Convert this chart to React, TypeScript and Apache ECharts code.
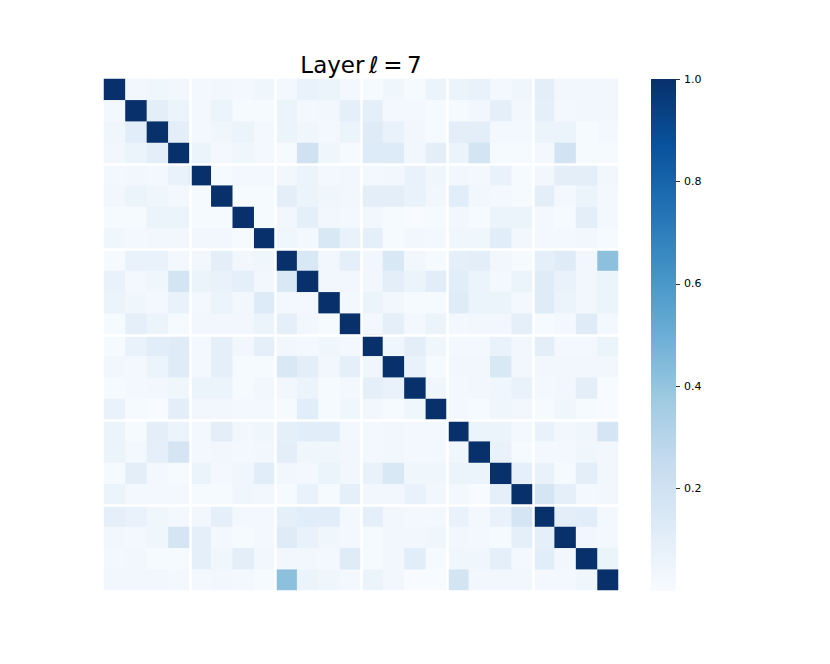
import React, { useEffect, useRef } from "react";
import * as echarts from "echarts";

const titleText = "Layer\u2009ℓ\u2009=\u20097";
const colorTicks = [0.2, 0.4, 0.6, 0.8, 1.0];
const blues = ["#f7fbff", "#deebf7", "#c6dbef", "#9ecae1", "#6baed6", "#4292c6", "#2171b5", "#08519c", "#08306b"];

const row00 = [1, .03, .04, .03, .02, .03, .02, .04, .02, .07, .06, .02, .01, .04, .01, .06, .06, .07, .02, .04, .10, .03, .03, .03];
const row01 = [.02, 1, .10, .06, .02, .06, .01, .01, .06, .02, .03, .09, .09, .02, .02, .01, .01, .03, .09, .03, .09, .02, .03, .03];
const row02 = [.04, .11, 1, .10, .02, .04, .06, .02, .06, .04, .02, .06, .12, .07, .03, .01, .10, .10, .02, .02, .06, .06, .01, .02];
const row03 = [.03, .06, .10, 1, .06, .02, .04, .02, .01, .20, .04, .01, .13, .13, .03, .10, .06, .18, .01, .01, .02, .19, .01, .01];
const row04 = [.02, .03, .02, .07, 1, .01, .02, .02, .03, .06, .02, .03, .02, .03, .07, .04, .03, .02, .07, .01, .03, .10, .10, .03];
const row05 = [.03, .06, .04, .02, .01, 1, .01, .01, .10, .06, .04, .03, .10, .10, .07, .03, .11, .03, .02, .01, .10, .02, .06, .02];
const row06 = [.01, .01, .06, .06, .01, .01, 1, .01, .03, .09, .03, .02, .03, .01, .00, .01, .03, .01, .06, .06, .02, .01, .10, .02];
const row07 = [.04, .02, .03, .03, .03, .03, .01, 1, .04, .02, .15, .07, .09, .01, .03, .02, .04, .04, .11, .03, .02, .02, .03, .01];
const row08 = [.01, .07, .07, .02, .03, .10, .03, .04, 1, .15, .03, .09, .03, .15, .03, .01, .09, .10, .03, .01, .09, .12, .03, .42];
const row09 = [.07, .02, .04, .18, .06, .07, .09, .03, .15, 1, .03, .03, .03, .10, .06, .11, .11, .06, .02, .06, .12, .07, .03, .06];
const row10 = [.06, .04, .02, .07, .02, .06, .03, .13, .02, .02, 1, .02, .06, .03, .01, .01, .12, .06, .06, .02, .12, .06, .03, .06];
const row11 = [.01, .09, .06, .01, .03, .03, .03, .06, .09, .03, .01, 1, .02, .09, .02, .06, .02, .03, .03, .09, .01, .02, .12, .02];
const row12 = [.01, .07, .11, .12, .02, .09, .03, .09, .03, .02, .04, .02, 1, .04, .10, .04, .02, .02, .07, .03, .10, .02, .02, .06];
const row13 = [.03, .02, .06, .12, .02, .09, .01, .01, .15, .10, .03, .09, .04, 1, .07, .01, .03, .03, .15, .03, .03, .03, .03, .03];
const row14 = [.01, .02, .03, .04, .06, .06, .01, .03, .03, .06, .01, .02, .09, .07, 1, .04, .02, .03, .04, .07, .02, .03, .10, .00];
const row15 = [.07, .01, .00, .10, .03, .03, .02, .02, .01, .11, .01, .04, .03, .01, .04, 1, .02, .01, .04, .03, .01, .04, .01, .00];
const row16 = [.06, .01, .10, .06, .02, .10, .03, .04, .09, .11, .11, .02, .02, .03, .02, .02, 1, .06, .06, .02, .07, .03, .04, .17];
const row17 = [.06, .02, .09, .17, .02, .03, .02, .03, .10, .04, .04, .03, .02, .03, .02, .02, .04, 1, .07, .01, .02, .02, .04, .03];
const row18 = [.01, .10, .02, .01, .06, .02, .04, .11, .03, .02, .06, .03, .07, .15, .04, .04, .06, .06, 1, .09, .07, .01, .10, .03];
const row19 = [.06, .02, .02, .02, .01, .01, .04, .03, .01, .07, .01, .09, .03, .03, .07, .03, .02, .00, .09, 1, .17, .09, .02, .03];
const row20 = [.09, .07, .04, .02, .03, .09, .02, .02, .09, .11, .11, .02, .09, .03, .02, .02, .07, .02, .07, .17, 1, .10, .11, .02];
const row21 = [.03, .02, .04, .17, .09, .02, .01, .02, .12, .07, .04, .02, .01, .03, .03, .04, .03, .02, .01, .09, .09, 1, .03, .02];
const row22 = [.02, .03, .01, .01, .09, .04, .10, .03, .03, .03, .02, .12, .01, .03, .11, .01, .04, .04, .09, .02, .11, .03, 1, .06];
const row23 = [.03, .03, .03, .02, .02, .03, .02, .01, .42, .06, .04, .02, .06, .03, .00, .00, .18, .03, .03, .03, .02, .02, .04, 1];

const rows = [row00, row01, row02, row03, row04, row05, row06, row07, row08, row09, row10, row11, row12, row13, row14, row15, row16, row17, row18, row19, row20, row21, row22, row23];
const categories = rows.map((_, i) => String(i));
const cells: number[][] = [];
rows.forEach((r, y) => r.forEach((v, x) => cells.push([x, y, v])));

const FONT = "DejaVu Sans";

export default function App() {
  const ref = useRef<HTMLDivElement>(null);
  useEffect(() => {
    const chart = echarts.init(ref.current!, null, { renderer: "svg" });
    const blockLine = {
      show: true,
      interval: (i: number) => i > 0 && i % 4 === 0,
      lineStyle: { color: "#ffffff", width: 2.5 },
    };
    chart.setOption({
      animation: false,
      backgroundColor: "#ffffff",
      textStyle: { fontFamily: FONT },
      title: {
        text: titleText,
        left: 356,
        top: 48,
        textAlign: "center",
        textStyle: { fontFamily: FONT, fontSize: 23, fontWeight: "normal", color: "#000000" },
      },
      grid: [
        { left: 104, top: 79, width: 515, height: 512 },
        { left: 651, top: 79, width: 25, height: 512 },
      ],
      xAxis: [
        {
          type: "category", gridIndex: 0, data: categories, z: 5,
          axisLine: { show: false }, axisTick: { show: false }, axisLabel: { show: false },
          splitLine: blockLine,
        },
        { type: "value", gridIndex: 1, min: 0, max: 1, show: false },
      ],
      yAxis: [
        {
          type: "category", gridIndex: 0, data: categories, inverse: true, z: 5,
          axisLine: { show: false }, axisTick: { show: false }, axisLabel: { show: false },
          splitLine: blockLine,
        },
        {
          type: "value", gridIndex: 1, position: "right", min: 0, max: 1, interval: 0.2,
          axisLine: { show: false, onZero: false },
          axisTick: { show: true, length: 4, lineStyle: { color: "#000000", width: 0.8 }, customValues: colorTicks },
          axisLabel: {
            show: true, margin: 8, color: "#000000", fontFamily: FONT, fontSize: 11,
            customValues: colorTicks,
            formatter: (v: number) => v.toFixed(1),
          },
          splitLine: { show: false },
        },
      ],
      visualMap: {
        show: false,
        type: "continuous",
        seriesIndex: 0,
        min: 0,
        max: 1,
        inRange: { color: blues },
      },
      graphic: [
        {
          type: "rect",
          z: 0,
          shape: { x: 651, y: 79, width: 25, height: 512 },
          style: {
            fill: new echarts.graphic.LinearGradient(
              0, 1, 0, 0,
              blues.map((color, i) => ({ offset: i / (blues.length - 1), color }))
            ),
          },
        },
      ],
      series: [
        {
          type: "heatmap",
          xAxisIndex: 0,
          yAxisIndex: 0,
          data: cells,
          progressive: 0,
          itemStyle: { borderWidth: 0 },
          emphasis: { disabled: true },
        },
        { type: "scatter", xAxisIndex: 1, yAxisIndex: 1, data: [], silent: true },
      ],
    });
    return () => chart.dispose();
  }, []);
  return <div ref={ref} style={{ position: "absolute", left: 0, top: 0, width: 830, height: 664 }} />;
}
